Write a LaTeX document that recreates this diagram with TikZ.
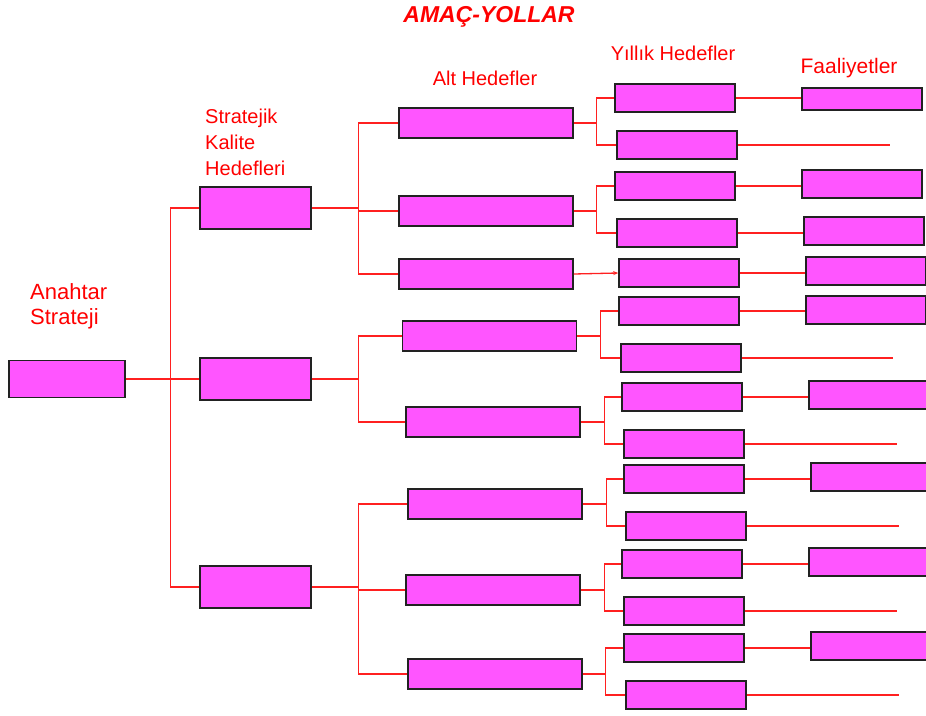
\documentclass[tikz,border=0pt]{standalone}
\usepackage{fontspec}
\setmainfont{Liberation Sans}
\usetikzlibrary{arrows.meta}
\definecolor{boxpink}{HTML}{FF55FF}
\definecolor{linkred}{HTML}{FF2020}
\definecolor{boxedge}{HTML}{222222}
\begin{document}
\begin{tikzpicture}[x=1pt, y=-1pt,
    box/.style={draw=boxedge, line width=1.6pt, fill=boxpink, inner sep=0pt},
    keybox/.style={box, minimum width=116pt, minimum height=37pt},
    sbox/.style={box, minimum width=111pt, minimum height=42pt},
    abox/.style={box, minimum width=174pt, minimum height=30pt},
    ybox/.style={box, minimum width=120pt, minimum height=28pt},
    fbox/.style={box, minimum width=120pt, minimum height=28pt},
    link/.style={draw=linkred, line width=1.3pt},
    lbl/.style={text=red, inner sep=0pt, font=\fontsize{20}{26}\selectfont}
]
\useasboundingbox (0,0) rectangle (926,715);
\clip (0,0) rectangle (926,715);
% labels
\node[lbl, anchor=base, font=\fontsize{23}{26}\selectfont\bfseries\itshape] (title) at (489,22) {AMAÇ-YOLLAR};
\node[lbl, anchor=base] (hdrA) at (485,85) {Alt Hedefler};
\node[lbl, anchor=base] (hdrY) at (673,60) {Yıllık Hedefler};
\node[lbl, anchor=base, font=\fontsize{21}{26}\selectfont] (hdrF) at (849,73) {Faaliyetler};
\node[lbl, anchor=north west, align=left] (hdrS) at (205,109) {Stratejik\\Kalite\\Hedefleri};
\node[lbl, anchor=north west, align=left, font=\fontsize{22}{25}\selectfont] (hdrK) at (30,283) {Anahtar\\Strateji};
% key strategy and strategic goals
\node[keybox] (K)  at (67,379) {};
\node[sbox] (S1) at (255.5,208) {};
\node[sbox] (S2) at (255.5,379) {};
\node[sbox] (S3) at (255.5,587) {};
% sub goals
\node[abox] (A1) at (486,123) {};
\node[abox] (A2) at (486,211) {};
\node[abox] (A3) at (486,274) {};
\node[abox] (A4) at (489.5,336) {};
\node[abox] (A5) at (493,422) {};
\node[abox] (A6) at (495,504) {};
\node[abox] (A7) at (493,590) {};
\node[abox] (A8) at (495,674) {};
% yearly goals
\node[ybox] (Y1)  at (675,98) {};
\node[ybox] (Y2)  at (677,145) {};
\node[ybox] (Y3)  at (675,186) {};
\node[ybox] (Y4)  at (677,233) {};
\node[ybox] (Y5)  at (679,273) {};
\node[ybox] (Y6)  at (679,311) {};
\node[ybox] (Y7)  at (681,358) {};
\node[ybox] (Y8)  at (682,397) {};
\node[ybox] (Y9)  at (684,444) {};
\node[ybox] (Y10) at (684,479) {};
\node[ybox] (Y11) at (686,526) {};
\node[ybox] (Y12) at (682,564) {};
\node[ybox] (Y13) at (684,611) {};
\node[ybox] (Y14) at (684,648) {};
\node[ybox] (Y15) at (686,695) {};
% activities
\node[fbox, minimum height=22pt] (F1) at (862,99) {};
\node[fbox] (F2) at (862,184) {};
\node[fbox] (F3) at (864,231) {};
\node[fbox] (F4) at (866,271) {};
\node[fbox] (F5) at (866,310) {};
\node[fbox] (F6) at (869,395) {};
\node[fbox] (F7) at (871,477) {};
\node[fbox] (F8) at (869,562) {};
\node[fbox] (F9) at (871,646) {};
% free line ends
\coordinate (d2)  at (890,145);
\coordinate (d7)  at (893,358);
\coordinate (d9)  at (897,443);
\coordinate (d11) at (899,525);
\coordinate (d13) at (897,610);
\coordinate (d15) at (899,694);
% connectors
\draw[link] (K.east) -- ++(45,0) |- (S1.west);
\draw[link] (K.east) -- ++(45,0) |- (S3.west);
\draw[link] (K.east) -- (S2.west);
\draw[link] (S1.east) -- ++(47,0) |- (A1.west);
\draw[link] (S1.east) -- ++(47,0) |- (A2.west);
\draw[link] (S1.east) -- ++(47,0) |- (A3.west);
\draw[link] (S2.east) -- ++(47,0) |- (A4.west);
\draw[link] (S2.east) -- ++(47,0) |- (A5.west);
\draw[link] (S3.east) -- ++(47,0) |- (A6.west);
\draw[link] (S3.east) -- ++(47,0) |- (A7.west);
\draw[link] (S3.east) -- ++(47,0) |- (A8.west);
\draw[link] (A1.east) -- ++(23,0) |- (Y1.west);
\draw[link] (A1.east) -- ++(23,0) |- (Y2.west);
\draw[link] (A2.east) -- ++(23,0) |- (Y3.west);
\draw[link] (A2.east) -- ++(23,0) |- (Y4.west);
\draw[link, -{Stealth[length=5pt, width=4pt]}] (A3.east) -- (Y5.west);
\draw[link] (A4.east) -- ++(23,0) |- (Y6.west);
\draw[link] (A4.east) -- ++(23,0) |- (Y7.west);
\draw[link] (A5.east) -- ++(24,0) |- (Y8.west);
\draw[link] (A5.east) -- ++(24,0) |- (Y9.west);
\draw[link] (A6.east) -- ++(24,0) |- (Y10.west);
\draw[link] (A6.east) -- ++(24,0) |- (Y11.west);
\draw[link] (A7.east) -- ++(24,0) |- (Y12.west);
\draw[link] (A7.east) -- ++(24,0) |- (Y13.west);
\draw[link] (A8.east) -- ++(23,0) |- (Y14.west);
\draw[link] (A8.east) -- ++(23,0) |- (Y15.west);
\draw[link] (Y1.east)  -- (Y1.east -| F1.west);
\draw[link] (Y3.east)  -- (Y3.east -| F2.west);
\draw[link] (Y4.east)  -- (Y4.east -| F3.west);
\draw[link] (Y5.east)  -- (Y5.east -| F4.west);
\draw[link] (Y6.east)  -- (Y6.east -| F5.west);
\draw[link] (Y8.east)  -- (Y8.east -| F6.west);
\draw[link] (Y10.east) -- (Y10.east -| F7.west);
\draw[link] (Y12.east) -- (Y12.east -| F8.west);
\draw[link] (Y14.east) -- (Y14.east -| F9.west);
\draw[link] (Y2.east)  -- (Y2.east -| d2);
\draw[link] (Y7.east)  -- (Y7.east -| d7);
\draw[link] (Y9.east)  -- (Y9.east -| d9);
\draw[link] (Y11.east) -- (Y11.east -| d11);
\draw[link] (Y13.east) -- (Y13.east -| d13);
\draw[link] (Y15.east) -- (Y15.east -| d15);
\end{tikzpicture}
\end{document}
